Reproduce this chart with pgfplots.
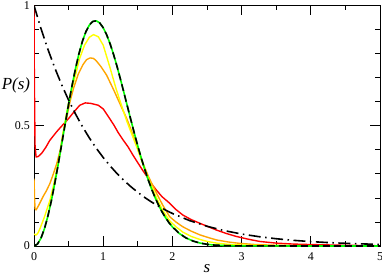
\documentclass[border=0pt]{standalone}
\usepackage{pgfplots}
\pgfplotsset{compat=1.18}
\usepackage{fontspec}
\setmainfont{Liberation Serif}
\definecolor{cRed}{RGB}{255,0,0}
\definecolor{cOrange}{RGB}{255,165,0}
\definecolor{cYellow}{RGB}{255,255,0}
\definecolor{cGreen}{RGB}{0,255,0}
\begin{document}
\begin{tikzpicture}[x=1bp,y=1bp]
\begin{axis}[
  at={(0,0)}, anchor=origin,
  scale only axis, width=346bp, height=240.5bp,
  xmin=0, xmax=5, ymin=0, ymax=1,
  xtick={0,1,2,3,4,5}, ytick={0,0.5,1},
  minor x tick num=1, minor y tick num=4,
  tick align=inside,
  major tick length=10bp, minor tick length=5bp,
  every tick/.style={black, line width=0.8pt},
  axis line style={line width=0.8pt},
  /pgf/number format/assume math mode=true,
  tick label style={font=\fontsize{12}{14}\selectfont},
  xticklabel style={inner sep=1pt, yshift=-5bp},
  yticklabel style={inner sep=1pt, xshift=-3bp},
  xlabel={\textit{s}}, ylabel={\textit{P(s)}},
  label style={font=\fontsize{17}{20}\selectfont},
  xlabel style={at={(axis description cs:0.5,-0.092)}, anchor=center},
  ylabel style={at={(axis description cs:-0.052,0.669)}, anchor=center, rotate=-90},
  clip=true,
]
% red
\addplot[cRed, line width=1.4pt, line join=round] coordinates {
(0,1.0) (0.005,0.7) (0.015,0.42) (0.03,0.37) (0.06,0.372) (0.11,0.385) (0.17,0.41)
(0.23,0.44) (0.33,0.476) (0.42,0.505) (0.5,0.53) (0.57,0.555) (0.66,0.585) (0.74,0.595)
(0.82,0.593) (0.93,0.585) (1.0,0.57) (1.07,0.54) (1.15,0.505) (1.22,0.47) (1.29,0.44)
(1.36,0.412) (1.43,0.378) (1.505,0.344) (1.57,0.315) (1.63,0.29) (1.7,0.258) (1.77,0.232)
(1.85,0.205) (1.96,0.178) (2.05,0.152) (2.15,0.129) (2.27,0.11) (2.4,0.094) (2.52,0.08)
(2.64,0.066) (2.78,0.052) (2.92,0.04) (3.1,0.028) (3.26,0.019) (3.5,0.012) (3.75,0.008)
(4.0,0.006) (4.5,0.003) (5.0,0.001)};
% orange
\addplot[cOrange, line width=1.4pt, line join=round] coordinates {
(0,0.28) (0.008,0.2) (0.015,0.155) (0.03,0.15) (0.07,0.17) (0.13,0.205) (0.18,0.23)
(0.23,0.26) (0.28,0.3) (0.33,0.344) (0.38,0.40) (0.42,0.47) (0.47,0.53) (0.52,0.6)
(0.57,0.655) (0.64,0.715) (0.71,0.755) (0.76,0.775) (0.81,0.782) (0.86,0.78) (0.9,0.77)
(0.97,0.745) (1.05,0.71) (1.15,0.65) (1.26,0.58) (1.34,0.53) (1.42,0.47) (1.5,0.405)
(1.58,0.34) (1.66,0.285) (1.77,0.22) (1.86,0.17) (1.96,0.122) (2.05,0.1) (2.15,0.08)
(2.27,0.062) (2.4,0.046) (2.52,0.035) (2.64,0.025) (2.8,0.017) (2.97,0.011) (3.2,0.006)
(3.5,0.003) (4,0.001) (5,0.0)};
% yellow
\addplot[cYellow, line width=1.4pt, line join=round] coordinates {
(0,0.05) (0.03,0.045) (0.06,0.055) (0.09,0.075) (0.15,0.12) (0.23,0.19) (0.28,0.25)
(0.33,0.317) (0.38,0.39) (0.42,0.47) (0.47,0.55) (0.52,0.625) (0.59,0.70) (0.66,0.78)
(0.73,0.835) (0.8,0.868) (0.86,0.879) (0.93,0.87) (1.0,0.835) (1.1,0.74) (1.19,0.65)
(1.27,0.58) (1.34,0.52) (1.42,0.46) (1.5,0.40) (1.58,0.335) (1.66,0.275) (1.77,0.2)
(1.86,0.148) (1.96,0.105) (2.05,0.08) (2.15,0.058) (2.27,0.04) (2.4,0.027) (2.52,0.018)
(2.64,0.012) (2.8,0.007) (3.0,0.004) (3.3,0.002) (4,0.0005) (5,0)};
% green (GUE)
\addplot[cGreen, line width=1.6pt, line join=round] coordinates {
(0,0) (0.05,0.0081) (0.1,0.032) (0.15,0.0709) (0.2,0.1233) (0.25,0.1871) (0.3,0.2602)
(0.35,0.3398) (0.4,0.4232) (0.45,0.5074) (0.5,0.5896) (0.55,0.6673) (0.6,0.738)
(0.65,0.8) (0.7,0.8514) (0.75,0.8912) (0.8,0.9187) (0.85,0.9337) (0.9,0.9364)
(0.95,0.9274) (1.0,0.9077) (1.05,0.8782) (1.1,0.8406) (1.15,0.7961) (1.2,0.7465)
(1.25,0.6929) (1.3,0.6371) (1.35,0.5805) (1.4,0.524) (1.45,0.4689) (1.5,0.4158)
(1.55,0.3657) (1.6,0.3189) (1.65,0.2758) (1.7,0.2364) (1.75,0.2012) (1.8,0.1698)
(1.85,0.1421) (1.9,0.1181) (1.95,0.0973) (2.0,0.0796) (2.1,0.0521) (2.2,0.0331)
(2.3,0.0204) (2.4,0.0122) (2.5,0.0071) (2.6,0.004) (2.8,0.00117) (3.0,0.0003) (5,0)};
% black dashed (GUE)
\addplot[black, line width=1.6pt, dash pattern=on 7bp off 4bp, line join=round] coordinates {
(0,0) (0.05,0.0081) (0.1,0.032) (0.15,0.0709) (0.2,0.1233) (0.25,0.1871) (0.3,0.2602)
(0.35,0.3398) (0.4,0.4232) (0.45,0.5074) (0.5,0.5896) (0.55,0.6673) (0.6,0.738)
(0.65,0.8) (0.7,0.8514) (0.75,0.8912) (0.8,0.9187) (0.85,0.9337) (0.9,0.9364)
(0.95,0.9274) (1.0,0.9077) (1.05,0.8782) (1.1,0.8406) (1.15,0.7961) (1.2,0.7465)
(1.25,0.6929) (1.3,0.6371) (1.35,0.5805) (1.4,0.524) (1.45,0.4689) (1.5,0.4158)
(1.55,0.3657) (1.6,0.3189) (1.65,0.2758) (1.7,0.2364) (1.75,0.2012) (1.8,0.1698)
(1.85,0.1421) (1.9,0.1181) (1.95,0.0973) (2.0,0.0796) (2.1,0.0521) (2.2,0.0331)
(2.3,0.0204) (2.4,0.0122) (2.5,0.0071) (2.6,0.004) (2.8,0.00117) (3.0,0.0003) (5,0)};
% Poisson dash-dot
\addplot[black, line width=1.6pt, dash pattern=on 12bp off 4.5bp on 1.5bp off 4.5bp] coordinates {
(0,1) (0.1,0.9048) (0.2,0.8187) (0.3,0.7408) (0.4,0.6703) (0.5,0.6065) (0.6,0.5488)
(0.7,0.4966) (0.8,0.4493) (0.9,0.4066) (1,0.3679) (1.1,0.3329) (1.2,0.3012) (1.3,0.2725)
(1.4,0.2466) (1.5,0.2231) (1.6,0.2019) (1.7,0.1827) (1.8,0.1653) (1.9,0.1496) (2,0.1353)
(2.25,0.1054) (2.5,0.0821) (2.75,0.0639) (3,0.0498) (3.25,0.0388) (3.5,0.0302)
(3.75,0.0235) (4,0.0183) (4.25,0.0143) (4.5,0.0111) (4.75,0.0087) (5,0.0067)};
\end{axis}
\pgfresetboundingbox
\path (-34bp,-33bp) rectangle (348bp,246bp);
\end{tikzpicture}
\end{document}
